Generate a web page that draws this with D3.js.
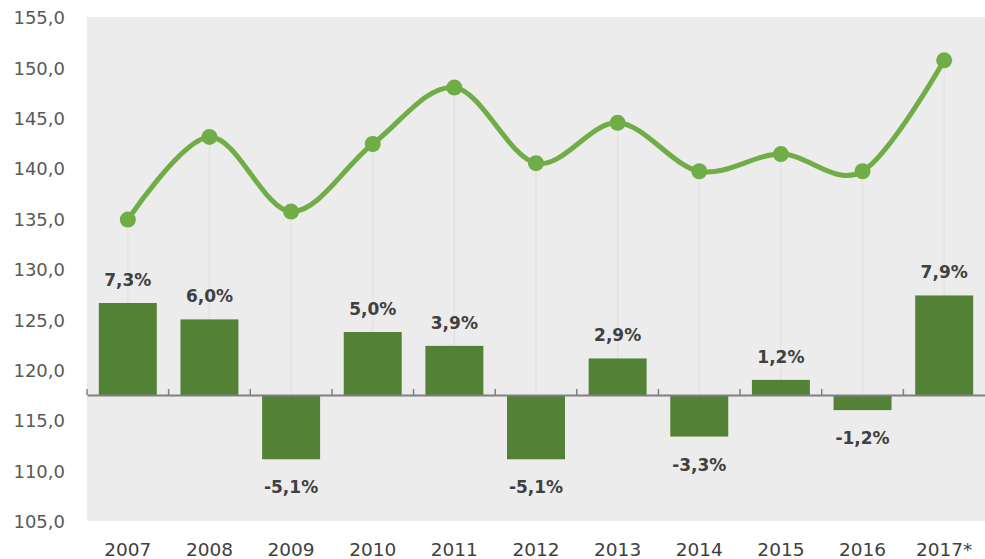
<!DOCTYPE html>
<html>
<head>
<meta charset="utf-8">
<script src="https://cdn.jsdelivr.net/npm/d3@7"></script>
<style>
  html, body { margin: 0; padding: 0; background: #ffffff; }
  svg { display: block; }
</style>
</head>
<body>
<svg id="chart" width="985" height="559"></svg>
<script>
// Years on the category axis
const years = ["2007", "2008", "2009", "2010", "2011", "2012", "2013", "2014", "2015", "2016", "2017*"];
// Index level (left axis, drawn as a smoothed line)
const indexValues = [134.9, 143.1, 135.7, 142.4, 148.0, 140.5, 144.5, 139.7, 141.4, 139.7, 150.7];
// Year-on-year change in % (hidden secondary axis, drawn as bars)
const growthValues = [7.3, 6.0, -5.1, 5.0, 3.9, -5.1, 2.9, -3.3, 1.2, -1.2, 7.9];
// Left axis tick values
const yTicks = [105, 110, 115, 120, 125, 130, 135, 140, 145, 150, 155];

const svg = d3.select("#chart");
const plot = { left: 87, right: 985, top: 17, bottom: 521 };

const x = d3.scaleBand().domain(years).range([plot.left, plot.right]).paddingInner(0.29).paddingOuter(0.145);
const xCat = d3.scaleBand().domain(years).range([plot.left, plot.right]);
const y = d3.scaleLinear().domain([105, 155]).range([plot.bottom, plot.top]);
const y2 = d3.scaleLinear().domain([-10, 30]).range([plot.bottom, plot.top]);

const fmt1 = v => d3.format(".1f")(v).replace(".", ",").replace("−", "-");

// Plot background
svg.append("rect")
  .attr("x", plot.left).attr("y", plot.top)
  .attr("width", plot.right - plot.left).attr("height", plot.bottom - plot.top)
  .attr("fill", "#ececec");

// Left axis labels
const yAxis = d3.axisLeft(y).tickValues(yTicks).tickSize(0).tickPadding(0).tickFormat(fmt1);
const gy = svg.append("g").attr("transform", "translate(65,1)").call(yAxis);
gy.select(".domain").remove();
gy.selectAll("text")
  .attr("font-family", "DejaVu Sans, sans-serif")
  .attr("font-size", 18)
  .attr("fill", "#595959");

// Drop lines from each point down to the category axis
svg.append("g").selectAll("line")
  .data(years)
  .join("line")
  .attr("x1", d => xCat(d) + xCat.bandwidth() / 2)
  .attr("x2", d => xCat(d) + xCat.bandwidth() / 2)
  .attr("y1", (d, i) => y(indexValues[i]))
  .attr("y2", y2(0))
  .attr("stroke", "#d6d6d6")
  .attr("stroke-width", 1.2)
  .attr("stroke-dasharray", "1,1");

// Growth bars
svg.append("g").selectAll("rect")
  .data(years)
  .join("rect")
  .attr("x", d => x(d))
  .attr("width", x.bandwidth())
  .attr("y", (d, i) => Math.min(y2(growthValues[i]), y2(0)))
  .attr("height", (d, i) => Math.abs(y2(growthValues[i]) - y2(0)))
  .attr("fill", "#538135");

// Category axis crossing at 0 %
const xAxis = d3.axisBottom(xCat).tickSize(0).tickFormat("");
const gx = svg.append("g").attr("transform", `translate(0,${y2(0)})`).call(xAxis);
gx.select(".domain").attr("stroke", "#7f7f7f").attr("stroke-width", 2);
gx.selectAll(".tick").remove();
// Tick marks between categories, pointing up
const boundaries = years.map(d => xCat(d)).concat([plot.right]);
svg.append("g").selectAll("line")
  .data(boundaries.slice(0, -1))
  .join("line")
  .attr("x1", d => d).attr("x2", d => d)
  .attr("y1", y2(0) - 6).attr("y2", y2(0))
  .attr("stroke", "#7f7f7f").attr("stroke-width", 1.5);

// Year labels below the plot
svg.append("g").selectAll("text")
  .data(years)
  .join("text")
  .attr("x", d => xCat(d) + xCat.bandwidth() / 2)
  .attr("y", 556)
  .attr("text-anchor", "middle")
  .attr("font-family", "DejaVu Sans, sans-serif")
  .attr("font-size", 18.5)
  .attr("fill", "#404040")
  .text(d => d);

// Growth value labels
svg.append("g").selectAll("text")
  .data(years)
  .join("text")
  .attr("x", d => x(d) + x.bandwidth() / 2)
  .attr("y", (d, i) => growthValues[i] >= 0 ? y2(growthValues[i]) - 17 : y2(growthValues[i]) + 34)
  .attr("text-anchor", "middle")
  .attr("font-family", "DejaVu Sans, sans-serif")
  .attr("font-weight", "bold")
  .attr("font-size", 17)
  .attr("fill", "#404040")
  .text((d, i) => fmt1(growthValues[i]) + "%");

// Index line
const line = d3.line()
  .x((d, i) => xCat(years[i]) + xCat.bandwidth() / 2)
  .y(d => y(d))
  .curve(d3.curveCatmullRom.alpha(0));
svg.append("path")
  .datum(indexValues)
  .attr("d", line)
  .attr("fill", "none")
  .attr("stroke", "#70ad47")
  .attr("stroke-width", 5)
  .attr("stroke-linecap", "round");

svg.append("g").selectAll("circle")
  .data(indexValues)
  .join("circle")
  .attr("cx", (d, i) => xCat(years[i]) + xCat.bandwidth() / 2)
  .attr("cy", d => y(d))
  .attr("r", 8)
  .attr("fill", "#70ad47");
</script>
</body>
</html>
